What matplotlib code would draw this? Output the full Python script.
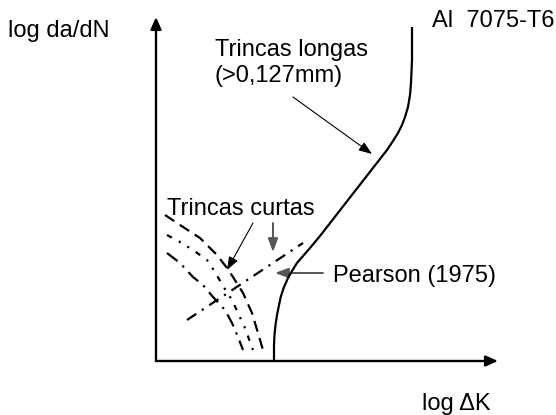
import matplotlib
matplotlib.use("Agg")
import matplotlib.pyplot as plt
from matplotlib.patches import FancyArrowPatch

plt.rcParams['font.family'] = ['Liberation Sans', 'DejaVu Sans']

# Schematic crack-growth curves in (log dK, log da/dN) units
long_x = [11.8, 11.8, 11.85, 11.95, 12.1, 12.3, 12.5, 12.8, 13.2, 13.6, 14.1, 14.7, 15.4, 16.4,
          19.2, 23.1, 23.7, 24.2, 24.6, 24.9, 25.2, 25.4, 25.5, 25.6, 25.6]
long_y = [0.0, 1.6, 2.6, 3.6, 4.6, 5.6, 6.5, 7.4, 8.3, 9.0, 9.8, 10.5, 11.3, 12.5,
          16.1, 21.1, 22.0, 22.8, 23.6, 24.4, 25.4, 26.6, 27.8, 30.1, 33.4]

short_dash_x = [0.9, 2.4, 4.4, 6.1, 7.1, 7.7, 8.7, 9.6, 10.2, 10.7]
short_dash_y = [14.6, 13.6, 12.3, 10.6, 9.3, 8.4, 6.8, 4.8, 2.8, 1.1]

short_dot_x = [1.1, 2.4, 3.7, 5.1, 5.9, 6.7, 7.6, 8.2, 8.9, 9.4, 9.7]
short_dot_y = [12.6, 11.9, 11.1, 10.1, 8.9, 7.5, 6.1, 4.8, 3.3, 1.9, 1.1]

short_dashdot_x = [1.1, 2.4, 3.7, 4.7, 5.7, 6.9, 7.6, 8.2, 8.7]
short_dashdot_y = [10.8, 9.8, 8.4, 7.6, 6.4, 5.1, 3.8, 2.4, 1.1]

pearson_x = [3.1, 14.7]
pearson_y = [4.1, 11.8]

fig = plt.figure(figsize=(5.56, 4.15), dpi=100)
ax = fig.add_axes([0, 0, 1, 1])
ax.set_xlim(-15.6, 40.0)
ax.set_ylim(-5.4, 36.1)
ax.axis('off')

# Axes with arrowheads
for end in [(0, 34.4), (34.2, 0)]:
    ax.add_patch(FancyArrowPatch((0, 0), end, arrowstyle='-|>,head_length=0.45,head_width=0.2',
                                 mutation_scale=16, lw=1.7, color='black',
                                 shrinkA=0, shrinkB=0))

ax.plot(long_x, long_y, color='black', lw=1.6, solid_capstyle='butt', solid_joinstyle='round')
ax.plot(short_dash_x, short_dash_y, color='black', lw=1.6, linestyle=(0, (5, 3)))
ax.plot(short_dot_x, short_dot_y, color='black', lw=1.6, linestyle=(0, (2.5, 3.5, 1, 3.5, 1, 3.5)))
ax.plot(short_dashdot_x, short_dashdot_y, color='black', lw=1.6, linestyle=(0, (6, 3, 1, 3)))
ax.plot(pearson_x, pearson_y, color='black', lw=1.6, linestyle=(0, (5, 3, 1, 3)))

# Annotation arrows
def arrow(p0, p1, color='black', lw=0.8, scale=10):
    ax.add_patch(FancyArrowPatch(p0, p1, arrowstyle='-|>,head_length=0.8,head_width=0.3',
                                 mutation_scale=scale, lw=lw, color=color,
                                 shrinkA=0, shrinkB=0))

arrow((13.7, 26.4), (21.6, 20.7))
arrow((9.7, 13.8), (7.1, 9.1))
arrow((11.7, 13.8), (11.7, 10.9), color='#555555', lw=1.4)
arrow((16.7, 8.8), (11.9, 8.8), color='#555555', lw=1.4)

fs = 17
ax.text(-14.8, 32.4, 'log da/dN', fontsize=fs, va='baseline', ha='left')
ax.text(27.6, 33.4, 'Al  7075-T6', fontsize=fs, va='baseline', ha='left')
ax.text(5.9, 30.5, 'Trincas longas', fontsize=fs, va='baseline', ha='left')
ax.text(5.9, 27.9, '(>0,127mm)', fontsize=fs, va='baseline', ha='left')
ax.text(1.1, 14.6, 'Trincas curtas', fontsize=fs, va='baseline', ha='left')
ax.text(17.7, 7.9, 'Pearson (1975)', fontsize=fs, va='baseline', ha='left')
ax.text(26.6, -4.9, 'log \u0394K', fontsize=fs, va='baseline', ha='left')

fig.savefig('out.png', dpi=100)
